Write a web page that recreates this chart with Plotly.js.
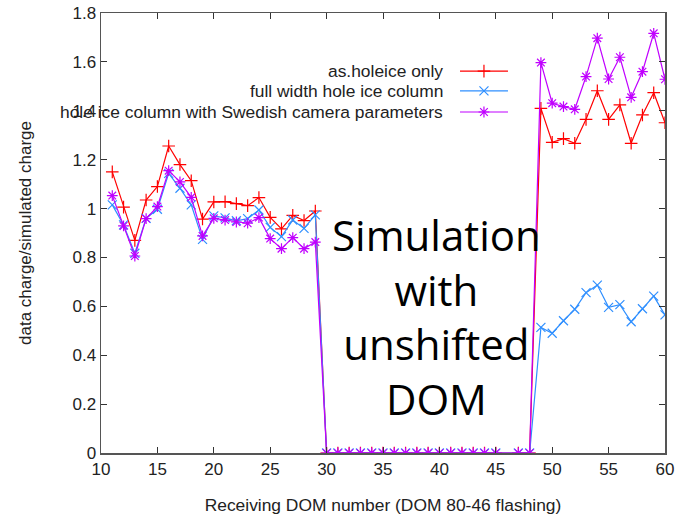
<!DOCTYPE html>
<html>
<head>
<meta charset="utf-8">
<script src="https://cdn.plot.ly/plotly-3.0.1.min.js"></script>
<style>html,body{margin:0;padding:0;background:#fff;}#chart{width:679px;height:516px;}</style>
</head>
<body>
<div id="chart"></div>
<script>
// Receiving DOM numbers (DOM 46 is the flasher, so it is absent)
var domNumbers = [11,12,13,14,15,16,17,18,19,20,21,22,23,24,25,26,27,28,29,30,
  31,32,33,34,35,36,37,38,39,40,41,42,43,44,45,47,48,
  49,50,51,52,53,54,55,56,57,58,59,60];

var holeiceOnly = [1.15,1.006,0.87,1.035,1.09,1.256,1.18,1.114,0.957,1.027,1.028,1.02,1.012,1.045,0.964,0.917,0.972,0.951,0.99,
  0,0,0,0,0,0,0,0,0,0,0,0,0,0,0,0,0,0,
  1.41,1.271,1.286,1.267,1.365,1.482,1.365,1.424,1.267,1.383,1.474,1.351];

var fullWidthColumn = [1.015,0.933,0.817,0.96,0.997,1.144,1.083,1.015,0.874,0.97,0.962,0.95,0.959,0.994,0.923,0.885,0.953,0.919,0.974,
  0,0,0,0,0,0,0,0,0,0,0,0,0,0,0,0,0,0,
  0.514,0.49,0.541,0.588,0.656,0.687,0.596,0.607,0.537,0.59,0.642,0.565];

var swedishCamera = [1.053,0.929,0.806,0.959,1.008,1.155,1.109,1.046,0.888,0.96,0.953,0.945,0.94,0.963,0.877,0.836,0.881,0.836,0.863,
  0,0,0,0,0,0,0,0,0,0,0,0,0,0,0,0,0,0,
  1.597,1.431,1.417,1.406,1.54,1.697,1.53,1.619,1.455,1.56,1.717,1.529];

var seriesNames = ['as.holeice only','full width hole ice column','hole ice column with Swedish camera parameters'];
var seriesColors = ['#ff0000','#2f8fff','#c000ff'];
var seriesSymbols = ['cross-thin-open','x-thin-open','asterisk-open'];
var seriesValues = [holeiceOnly, fullWidthColumn, swedishCamera];

var xTickVals = [10,15,20,25,30,35,40,45,50,55,60];
var yTickVals = [0,0.2,0.4,0.6,0.8,1,1.2,1.4,1.6,1.8];

var textFont = 'Liberation Sans, Arial, sans-serif';

var traces = [];
for (var i = 0; i < 3; i++) {
  traces.push({
    x: domNumbers, y: seriesValues[i], type: 'scatter', mode: 'lines+markers',
    name: seriesNames[i], showlegend: false,
    line: {color: seriesColors[i], width: 1.2},
    marker: {symbol: seriesSymbols[i], size: 9, color: seriesColors[i], line: {color: seriesColors[i], width: 1.2}}
  });
}
// legend key samples on an overlay axis (paper-like 0..1)
var legY = [0.868, 0.823, 0.775];
var annotations = [];
for (var j = 0; j < 3; j++) {
  traces.push({
    x: [0.6365, 0.7216], y: [legY[j], legY[j]], xaxis: 'x2', yaxis: 'y2', mode: 'lines',
    line: {color: seriesColors[j], width: 1.2}, showlegend: false, hoverinfo: 'skip'
  });
  traces.push({
    x: [0.679], y: [legY[j]], xaxis: 'x2', yaxis: 'y2', mode: 'markers',
    marker: {symbol: seriesSymbols[j], size: 9, color: seriesColors[j], line: {color: seriesColors[j], width: 1.2}},
    showlegend: false, hoverinfo: 'skip'
  });
  annotations.push({
    xref: 'paper', yref: 'paper', x: 0.61, y: legY[j], xanchor: 'right', yanchor: 'middle',
    text: seriesNames[j], showarrow: false,
    font: {family: textFont, size: 17.4, color: '#222'}
  });
}
annotations.push({
  xref: 'paper', yref: 'paper', x: 0.595, y: 0.311, xanchor: 'center', yanchor: 'middle',
  text: 'Simulation<br>with<br>unshifted<br>DOM', showarrow: false, align: 'center',
  font: {family: 'Open Sans, sans-serif', size: 42, color: '#000'}
});

var axisFont = {family: textFont, size: 17, color: '#222'};
var layout = {
  width: 679, height: 516,
  margin: {l: 101, r: 14, t: 13, b: 63},
  paper_bgcolor: '#fff', plot_bgcolor: '#fff',
  showlegend: false,
  xaxis: {
    range: [10, 60], tickvals: xTickVals, ticks: 'inside', ticklen: 6, tickcolor: '#333',
    mirror: 'ticks', showline: true, linecolor: '#555', linewidth: 1.5, showgrid: false, zeroline: false,
    tickfont: axisFont,
    title: {text: 'Receiving DOM number (DOM 80-46 flashing)', font: {family: textFont, size: 17.4, color: '#222'}, standoff: 21}
  },
  yaxis: {
    range: [0, 1.8], tickvals: yTickVals, ticks: 'inside', ticklen: 6, tickcolor: '#333',
    mirror: 'ticks', showline: true, linecolor: '#555', linewidth: 1.5, showgrid: false, zeroline: false,
    tickfont: axisFont,
    title: {text: 'data charge/simulated charge', font: {family: textFont, size: 17, color: '#222'}, standoff: 36}
  },
  xaxis2: {range: [0, 1], overlaying: 'x', visible: false, fixedrange: true},
  yaxis2: {range: [0, 1], overlaying: 'y', visible: false, fixedrange: true},
  annotations: annotations
};
Plotly.newPlot('chart', traces, layout, {displayModeBar: false, staticPlot: true});
</script>
</body>
</html>
